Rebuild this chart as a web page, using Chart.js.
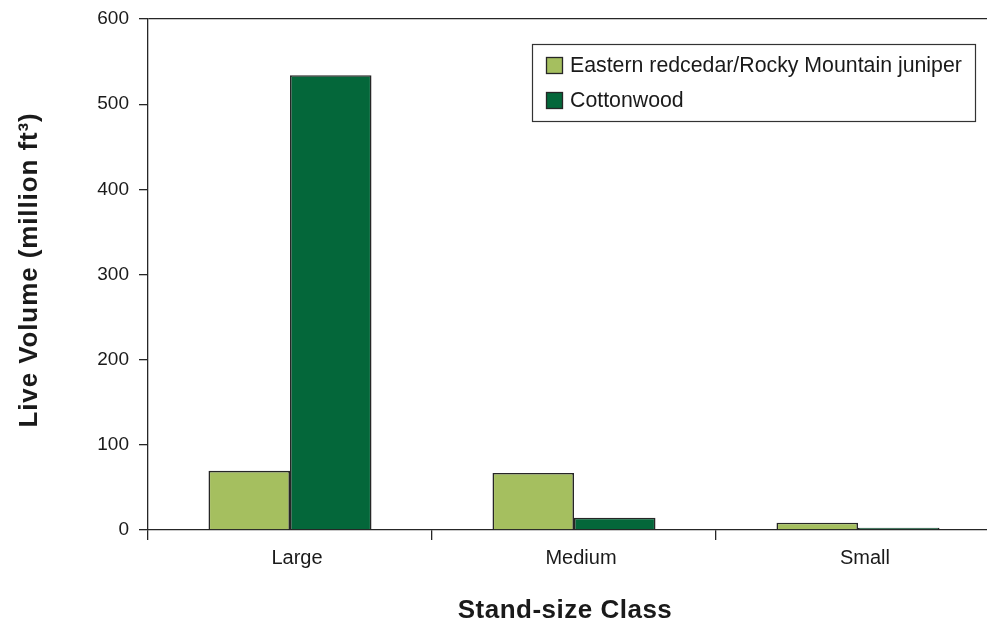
<!DOCTYPE html>
<html>
<head>
<meta charset="utf-8">
<title>Live Volume by Stand-size Class</title>
<script src="https://cdn.jsdelivr.net/npm/chart.js@4/dist/chart.umd.min.js"></script>
<style>
  html, body { margin: 0; padding: 0; background: #fff; overflow: hidden; }
  #wrap { width: 1001px; height: 626px; }
</style>
</head>
<body>
<div id="wrap"><canvas id="chart" width="1001" height="626"></canvas></div>
<script>
// Stand-size classes and live volume (million ft³) per species group
const categories = ['Large', 'Medium', 'Small'];
const seriesNames = ['Eastern redcedar/Rocky Mountain juniper', 'Cottonwood'];
const redcedarValues = [69.5, 67, 8.5];
const cottonwoodValues = [534, 14.5, 2.5];
const yTicks = [0, 100, 200, 300, 400, 500, 600];
const xAxisTitle = 'Stand-size Class';
const yAxisTitle = 'Live Volume (million ft³)';

const FONT = '"Liberation Sans", Arial, Helvetica, sans-serif';
const INK = '#1a1a1a';
const LINE = '#262626';
const colors = ['#a5bf5f', '#04673a'];

// Boxed legend in the upper right of the plot
const boxedLegend = {
  id: 'boxedLegend',
  afterDraw(chart) {
    const ctx = chart.ctx;
    const x0 = 532, y0 = 44, w = 443, h = 77;
    ctx.save();
    ctx.fillStyle = '#fff';
    ctx.fillRect(x0, y0, w, h);
    ctx.strokeStyle = '#333';
    ctx.lineWidth = 1.2;
    ctx.strokeRect(x0 + 0.5, y0 + 0.5, w, h);
    ctx.font = '21.3px ' + FONT;
    ctx.textBaseline = 'middle';
    chart.data.datasets.forEach((ds, i) => {
      const cy = 65 + i * 35;
      ctx.fillStyle = ds.backgroundColor;
      ctx.fillRect(546, cy - 8, 17, 17);
      ctx.strokeStyle = LINE;
      ctx.lineWidth = 1.3;
      ctx.strokeRect(546.5, cy - 7.5, 16, 16);
      ctx.fillStyle = INK;
      ctx.fillText(ds.label, 570, cy + 1);
    });
    ctx.restore();
  }
};

// Axis titles in bold, slightly tracked out
const axisTitles = {
  id: 'axisTitles',
  afterDraw(chart) {
    const ctx = chart.ctx;
    ctx.save();
    ctx.font = 'bold 26px ' + FONT;
    if ('letterSpacing' in ctx) ctx.letterSpacing = '0.5px';
    ctx.fillStyle = INK;
    ctx.textAlign = 'center';
    ctx.textBaseline = 'middle';
    ctx.fillText(xAxisTitle, 565, 611);
    if ('letterSpacing' in ctx) ctx.letterSpacing = '0.9px';
    ctx.translate(30, 270);
    ctx.rotate(-Math.PI / 2);
    ctx.fillText(yAxisTitle, 0, 0);
    ctx.restore();
  }
};

new Chart(document.getElementById('chart'), {
  type: 'bar',
  data: {
    labels: categories,
    datasets: [
      { label: seriesNames[0], data: redcedarValues, backgroundColor: colors[0],
        borderColor: LINE, borderWidth: 1.6 },
      { label: seriesNames[1], data: cottonwoodValues, backgroundColor: colors[1],
        borderColor: LINE, borderWidth: 1.6 }
    ]
  },
  options: {
    responsive: false,
    animation: false,
    layout: { padding: { left: 0, right: 1, top: 19, bottom: 0 } },
    datasets: { bar: { categoryPercentage: 0.574, barPercentage: 1.0 } },
    plugins: {
      legend: { display: false },
      tooltip: { enabled: false }
    },
    scales: {
      x: {
        offset: true,
        grid: { drawOnChartArea: false, color: LINE, tickColor: LINE, tickLength: 10, lineWidth: 1.3 },
        border: { color: LINE, width: 1.3 },
        ticks: { color: INK, font: { family: FONT, size: 20 }, padding: 6, labelOffset: 7 },
        afterFit(scale) { scale.height = 96; scale.paddingLeft = 0; scale.paddingRight = 0; }
      },
      y: {
        min: 0,
        max: 600,
        afterBuildTicks(scale) { scale.ticks = yTicks.map(v => ({ value: v })); },
        grid: {
          color: c => (c.tick && c.tick.value === 600 ? LINE : 'rgba(0,0,0,0)'),
          tickColor: LINE,
          tickLength: 9,
          lineWidth: 1.3
        },
        border: { color: LINE, width: 1.3 },
        ticks: { color: INK, font: { family: FONT, size: 19 }, padding: 10 },
        afterFit(scale) { scale.width = 148; scale.paddingTop = 0; scale.paddingBottom = 0; }
      }
    }
  },
  plugins: [boxedLegend, axisTitles]
});
</script>
</body>
</html>
